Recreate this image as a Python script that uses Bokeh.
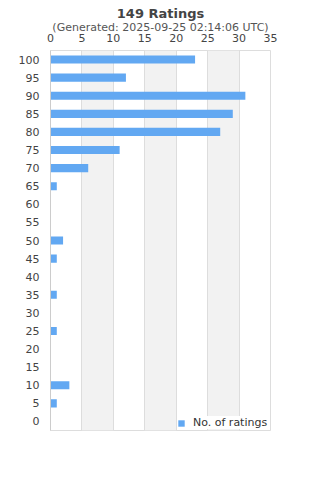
from bokeh.plotting import figure
from bokeh.models import (Range1d, FactorRange, SingleIntervalTicker, Title, Legend, LegendItem, ColumnDataSource)
from bokeh.embed import file_html
from bokeh.resources import INLINE

categories = ["100", "95", "90", "85", "80", "75", "70", "65", "60", "55", "50",
              "45", "40", "35", "30", "25", "20", "15", "10", "5", "0"]
counts = [23, 12, 31, 29, 27, 11, 6, 1, 0, 0, 2, 1, 0, 1, 0, 1, 0, 0, 3, 1, 0]
title_text = "149 Ratings"
subtitle_text = "(Generated: 2025-09-25 02:14:06 UTC)"
series_name = "No. of ratings"

FONT = "DejaVu Sans"
BAR = "#62a8f2"

src = ColumnDataSource(dict(cat=categories, n=counts))

p = figure(width=320, height=480, output_backend="svg", toolbar_location=None,
           x_range=Range1d(0, 35), y_range=FactorRange(factors=categories[::-1], range_padding=0),
           x_axis_location="above",
           min_border_left=50, min_border_right=50, min_border_top=50, min_border_bottom=50)
p.outline_line_color="#dddddd"
p.background_fill_color = "white"
p.border_fill_color = "white"

bars = p.hbar(y="cat", right="n", left=0, height=0.45, source=src, fill_color=BAR, line_color=None)

# x axis
xa = p.xaxis[0]
xa.ticker = SingleIntervalTicker(interval=5)
xa.axis_line_color = None
xa.major_tick_line_color = None
xa.minor_tick_line_color = None
xa.major_tick_out = 0
xa.major_tick_in = 0
xa.major_label_standoff = 5
xa.major_label_text_font = FONT
xa.major_label_text_font_size = "11px"
xa.major_label_text_color = "#444444"

ya = p.yaxis[0]
ya.axis_line_color = "#cccccc"
ya.major_tick_line_color = None
ya.minor_tick_line_color = None
ya.major_tick_out = 0
ya.major_tick_in = 0
ya.major_label_standoff = 11
ya.major_label_text_font = FONT
ya.major_label_text_font_size = "11px"
ya.major_label_text_color = "#444444"

p.ygrid.grid_line_color = None
p.xgrid.grid_line_color = "#dddddd"
p.xgrid.band_fill_color = "#f2f2f2"
p.xgrid.band_fill_alpha = 1

p.title.text = title_text
p.title.align = "center"
p.title.text_font = FONT
p.title.text_font_size = "13px"
p.title.text_font_style = "bold"
p.title.text_color = "#444444"
p.title.standoff = 4

sub = Title(text=subtitle_text, align="center", text_font=FONT, text_font_size="11px",
            text_font_style="normal", text_color="#555555", standoff=-7)
p.add_layout(sub, "above")

legend = Legend(items=[LegendItem(label=series_name, renderers=[bars])],
                location=(127, 1), background_fill_color="white", background_fill_alpha=1,
                border_line_color=None, padding=5, margin=0, glyph_width=8, glyph_height=8,
                label_height=12, label_standoff=8, label_text_font=FONT,
                label_text_font_size="11px", label_text_color="#333333")
p.add_layout(legend, "center")

open("out.html", "w").write(file_html(p, INLINE))
